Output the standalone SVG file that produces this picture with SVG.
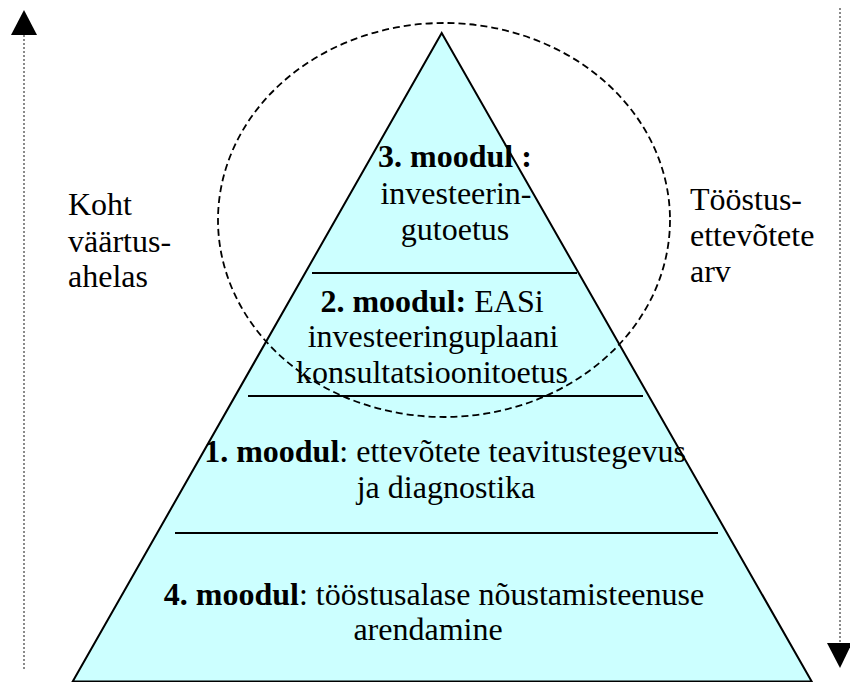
<svg xmlns="http://www.w3.org/2000/svg" width="850" height="682" viewBox="0 0 850 682">
  <style>
    .t { font-family: "Liberation Serif", "Times New Roman", "DejaVu Serif", serif; font-size: 32px; fill: #000; }
    .c { text-anchor: middle; }
    .b { font-weight: bold; }
    .tier { fill: #ccffff; stroke: #000; stroke-width: 2; stroke-linejoin: miter; }
    .divider { stroke: #000; stroke-width: 2; }
    .axis { stroke: #8a8a8a; stroke-width: 2; stroke-dasharray: 2 2; fill: none; }
    .head { fill: #000; }
    .focus { fill: none; stroke: #000; stroke-width: 1.8; stroke-dasharray: 7 4; }
  </style>

  <!-- side axes -->
  <g id="axis-left">
    <line class="axis" x1="24" y1="35" x2="24" y2="669"/>
    <polygon class="head" points="24,10 11,35 37,35"/>
  </g>
  <g id="axis-right">
    <line class="axis" x1="840" y1="8" x2="840" y2="643"/>
    <polygon class="head" points="827,643 852,643 840,668"/>
  </g>

  <!-- pyramid -->
  <g id="pyramid">
    <polygon class="tier" points="441.7,33 72.7,681.5 811.7,681.5"/>
  </g>

  <!-- tier dividers -->
  <g id="connectors">
    <line class="divider" x1="312" y1="273" x2="577" y2="273"/>
    <line class="divider" x1="248" y1="396" x2="643" y2="396"/>
    <line class="divider" x1="175" y1="533" x2="718" y2="533"/>
  </g>

  <!-- module tiers -->
  <g id="module-3" class="t" font-family="Liberation Serif, serif">
    <text class="c" x="455" y="167"><tspan class="b">3. moodul :</tspan></text>
    <text class="c" x="456" y="204">investeerin-</text>
    <text class="c" x="455" y="240">gutoetus</text>
  </g>
  <g id="module-2" class="t" font-family="Liberation Serif, serif">
    <text class="c" x="432" y="312"><tspan class="b">2. moodul:</tspan> EASi</text>
    <text class="c" x="433" y="347">investeeringuplaani</text>
    <text class="c" x="432" y="383">konsultatsioonitoetus</text>
  </g>
  <g id="module-1" class="t" font-family="Liberation Serif, serif">
    <text class="c" x="445" y="462"><tspan class="b">1. moodul</tspan>: ettevõtete teavitustegevus</text>
    <text class="c" x="446" y="498">ja diagnostika</text>
  </g>
  <g id="module-4" class="t" font-family="Liberation Serif, serif">
    <text class="c" x="434" y="605"><tspan class="b">4. moodul</tspan>: tööstusalase nõustamisteenuse</text>
    <text class="c" x="428" y="640">arendamine</text>
  </g>

  <!-- highlighted area around the upper tiers -->
  <g id="focus-ellipse">
    <ellipse class="focus" cx="444" cy="220" rx="226" ry="197"/>
  </g>

  <!-- side labels -->
  <g id="label-left" class="t" font-family="Liberation Serif, serif">
    <text x="68" y="215">Koht</text>
    <text x="68" y="252">väärtus-</text>
    <text x="68" y="287">ahelas</text>
  </g>
  <g id="label-right" class="t" font-family="Liberation Serif, serif">
    <text x="690" y="210">Tööstus-</text>
    <text x="690" y="246">ettevõtete</text>
    <text x="690" y="282">arv</text>
  </g>
</svg>
